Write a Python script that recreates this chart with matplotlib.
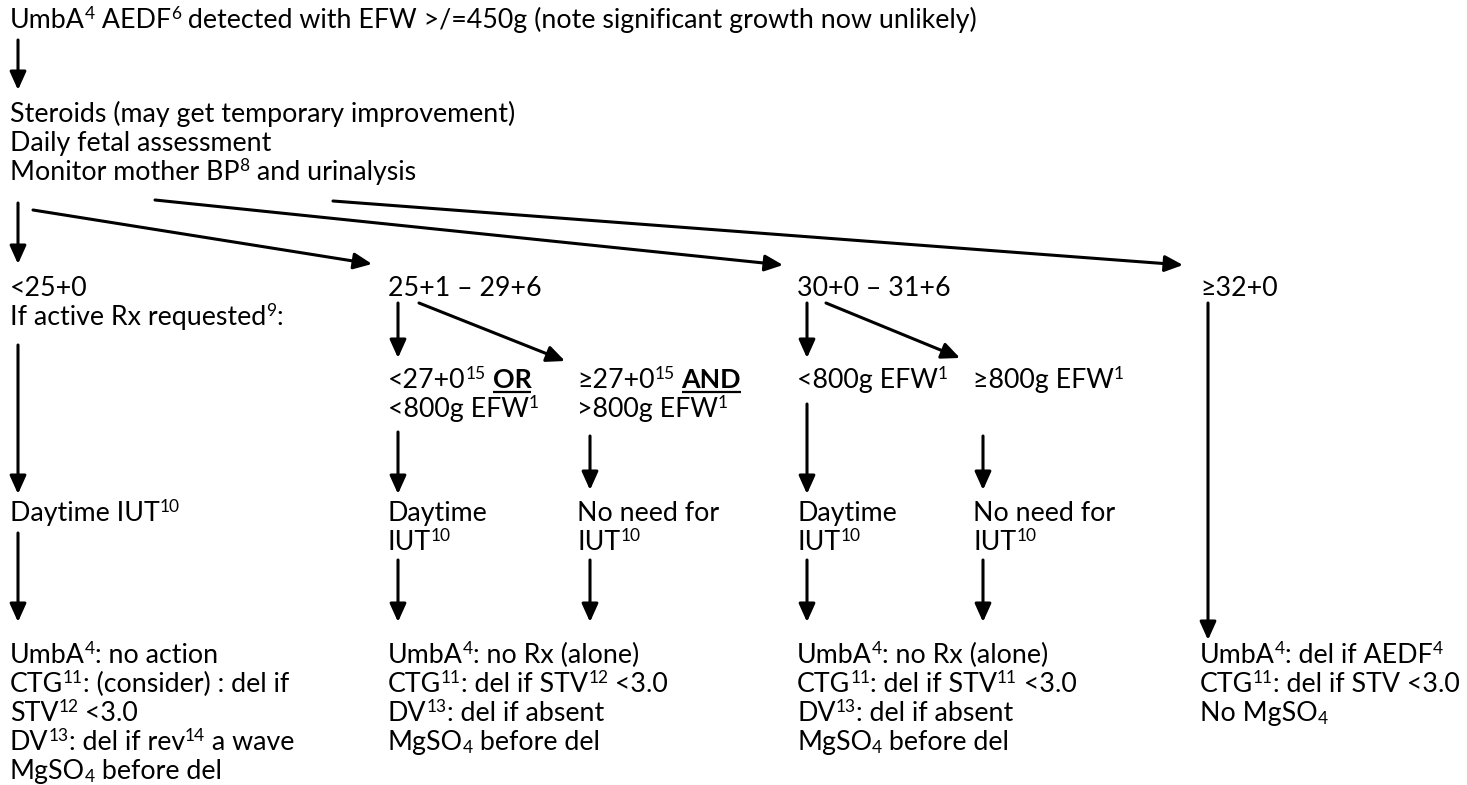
import re
import matplotlib
matplotlib.use("Agg")
import matplotlib.pyplot as plt

# ---------------- text content (markup: ^{..} superscript, _{..} subscript, *{..} bold+underline)
top_line = ["UmbA^{4} AEDF^{6} detected with EFW >/=450g (note significant growth now unlikely)"]
initial_steps = ["Steroids (may get temporary improvement)", "Daily fetal assessment",
                 "Monitor mother BP^{8} and urinalysis"]
gestation_bands = ["<25+0", "25+1 – 29+6", "30+0 – 31+6", "≥32+0"]
band1_note = ["If active Rx requested^{9}:"]
band2_split = [["<27+0^{15} *{OR}", "<800g EFW^{1}"], ["≥27+0^{15} *{AND}", ">800g EFW^{1}"]]
band3_split = [["<800g EFW^{1}"], ["≥800g EFW^{1}"]]
iut_band1 = ["Daytime IUT^{10}"]
iut_yes = ["Daytime", "IUT^{10}"]
iut_no = ["No need for", "IUT^{10}"]
actions_band1 = ["UmbA^{4}: no action", "CTG^{11}: (consider) : del if", "STV^{12} <3.0",
                 "DV^{13}: del if rev^{14} a wave", "MgSO_{4} before del"]
actions_band2 = ["UmbA^{4}: no Rx (alone)", "CTG^{11}: del if STV^{12} <3.0",
                 "DV^{13}: del if absent", "MgSO_{4} before del"]
actions_band3 = ["UmbA^{4}: no Rx (alone)", "CTG^{11}: del if STV^{11} <3.0",
                 "DV^{13}: del if absent", "MgSO_{4} before del"]
actions_band4 = ["UmbA^{4}: del if AEDF^{4}", "CTG^{11}: del if STV <3.0", "No MgSO_{4}"]

# ---------------- figure in pixel coordinates
W, H = 1467, 785
fig = plt.figure(figsize=(W / 100, H / 100), dpi=100)
ax = fig.add_axes([0, 0, 1, 1])
ax.set_xlim(0, W)
ax.set_ylim(H, 0)
ax.axis("off")
renderer = fig.canvas.get_renderer()
FAMILY = ["Lato", "DejaVu Sans"]


def raw_width(s, size, weight="normal"):
    t = ax.text(0, 0, s, fontsize=size, family=FAMILY, weight=weight)
    w = t.get_window_extent(renderer).width
    t.remove()
    return w


def adv(s, size, weight="normal"):
    return raw_width(s + ".", size, weight) - raw_width(".", size, weight)


BASE = 20.0 * 261.0 / adv("Daily fetal assessment", 20.0)
BASE_PX = BASE * 100 / 72
LINE = 29.0


def parse(line):
    runs = []
    pos = 0
    for m in re.finditer(r"([\^_*])\{([^}]*)\}", line):
        if m.start() > pos:
            runs.append((line[pos:m.start()], "n"))
        runs.append((m.group(2), {"^": "sup", "_": "sub", "*": "bu"}[m.group(1)]))
        pos = m.end()
    if pos < len(line):
        runs.append((line[pos:], "n"))
    return runs


def draw_line(x, y, line):
    for s, kind in parse(line):
        size, dy, weight = BASE, 0.0, "normal"
        if kind == "sup":
            size, dy = BASE * 0.65, -BASE_PX * 0.33
        elif kind == "sub":
            size, dy = BASE * 0.65, BASE_PX * 0.13
        elif kind == "bu":
            weight = "bold"
        ax.text(x, y + dy, s, fontsize=size, family=FAMILY, weight=weight,
                ha="left", va="baseline", color="black")
        w = adv(s, size, weight)
        if kind == "bu":
            ax.plot([x, x + w], [y + 4, y + 4], color="black", lw=1.6, solid_capstyle="butt")
        x += w


def draw_block(x, y, lines):
    for i, ln in enumerate(lines):
        draw_line(x, y + i * LINE, ln)


def arrow(x0, y0, x1, y1):
    ax.annotate("", xy=(x1, y1), xytext=(x0, y0),
                arrowprops=dict(arrowstyle="-|>,head_length=1.0,head_width=0.45",
                                mutation_scale=11, lw=2.2, color="black",
                                shrinkA=0, shrinkB=0))


# ---------------- text blocks
C1, C2, C2B, C3, C3B, C4 = 10, 388, 577, 797, 973, 1200
R0, R1, R2, R3, R4, R5 = 28, 122, 296, 388, 521, 663
draw_block(C1, R0, top_line)
draw_block(C1, R1, initial_steps)
draw_block(C1, R2, [gestation_bands[0]] + band1_note)
draw_block(C2, R2, [gestation_bands[1]])
draw_block(C3, R2, [gestation_bands[2]])
draw_block(C4, R2, [gestation_bands[3]])
draw_block(C2, R3, band2_split[0])
draw_block(C2B, R3, band2_split[1])
draw_block(C3, R3, band3_split[0])
draw_block(C3B, R3, band3_split[1])
draw_block(C1, R4, iut_band1)
draw_block(C2, R4, iut_yes)
draw_block(C2B, R4, iut_no)
draw_block(C3, R4, iut_yes)
draw_block(C3B, R4, iut_no)
draw_block(C1, R5, actions_band1)
draw_block(C2, R5, actions_band2)
draw_block(C3, R5, actions_band3)
draw_block(C4, R5, actions_band4)

# ---------------- arrows
arrow(18, 40, 18, 90)
arrow(18, 203, 18, 264)
arrow(33, 210, 372, 264)
arrow(155, 200, 783, 265)
arrow(333, 201, 1183, 265)
arrow(18, 345, 18, 494)
arrow(18, 533, 18, 622)
arrow(398, 303, 398, 358)
arrow(419, 303, 565, 361)
arrow(398, 432, 398, 494)
arrow(590, 436, 590, 490)
arrow(398, 560, 398, 622)
arrow(590, 560, 590, 622)
arrow(807, 303, 807, 358)
arrow(826, 303, 960, 358)
arrow(807, 404, 807, 494)
arrow(983, 436, 983, 490)
arrow(807, 560, 807, 622)
arrow(983, 560, 983, 622)
arrow(1208, 303, 1208, 640)

fig.savefig("out.png", dpi=100, facecolor="white")
